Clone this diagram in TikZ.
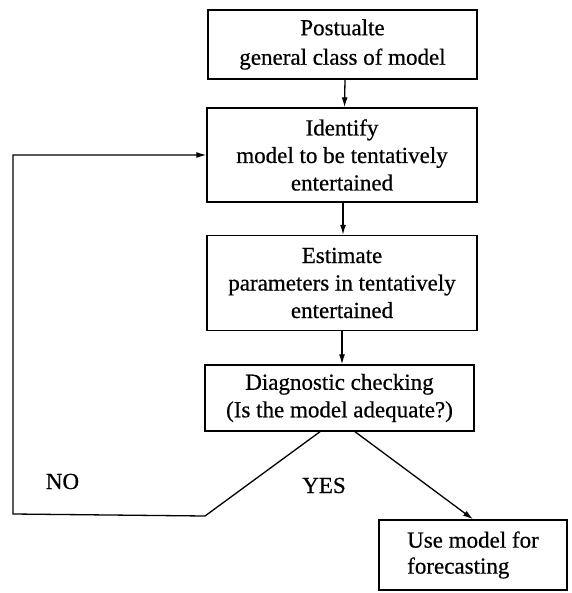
\documentclass[tikz,border=0pt]{standalone}
\usepackage{fontspec}
\setmainfont{Liberation Serif}[FakeBold=0.6]
\usetikzlibrary{arrows.meta,calc}
\begin{document}
\begin{tikzpicture}[x=1pt,y=-1pt,
  box/.style={draw,line width=1.4pt,rectangle,inner sep=0pt,align=center,
    font=\fontsize{23pt}{27.5pt}\selectfont},
  lbl/.style={anchor=base,inner sep=0pt,font=\fontsize{23pt}{27.5pt}\selectfont},
  conn/.style={line width=1.3pt},
  arr/.style={conn,-{Latex[length=10pt,width=6pt]}}]
\useasboundingbox (0,0) rectangle (571,593);
\node[box,minimum width=269pt,minimum height=69pt,
  font=\fontsize{23pt}{29.5pt}\selectfont] (b1) at (342.5,44.5)
  {Postualte\\general class of model};
\node[box,minimum width=270pt,minimum height=94pt] (b2) at (342,155)
  {Identify\\model to be tentatively\\entertained};
\node[box,minimum width=270pt,minimum height=95pt] (b3) at (342,283)
  {Estimate\\parameters in tentatively\\entertained};
\node[box,minimum width=269pt,minimum height=66pt] (b4) at (339.5,398)
  {Diagnostic checking\\(Is the model adequate?)};
\node[box,minimum width=188pt,minimum height=70pt,align=left,
  font=\fontsize{23pt}{26pt}\selectfont] (b5) at (473,555)
  {Use model for\\forecasting};
\node[lbl] (no) at (62.5,489) {NO};
\node[lbl] (yes) at (324,493) {YES};
\coordinate (c1) at (205,516);
\coordinate (c2) at (13,514);
\coordinate (c3) at (13,155);
\draw[arr] ($(b1.south)+(2.5,0)$) -- ($(b2.north)+(2.5,0)$);
\draw[arr] ($(b2.south)+(1,0)$) -- ($(b3.north)+(1,0)$);
\draw[arr] ($(b3.south)+(0,0)$) -- ($(b4.north)+(2.5,0)$);
\draw[arr] ($(b4.south)+(-19.5,0)$) -- (c1) -- (c2) -- (c3) -- (b2.west);
\draw[arr] ($(b4.south)+(15.5,0)$) -- (b5.north);
\end{tikzpicture}
\end{document}
